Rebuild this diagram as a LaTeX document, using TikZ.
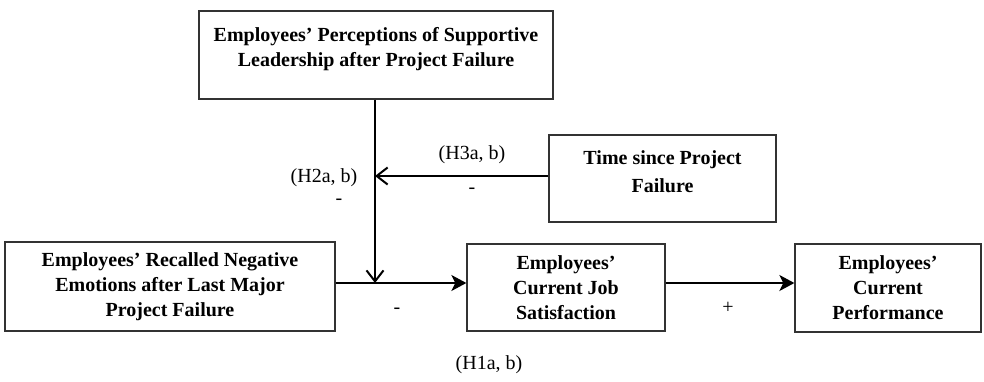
\documentclass[tikz,border=0pt]{standalone}
\usepackage{fontspec}
\setmainfont{Liberation Serif}
\usetikzlibrary{arrows.meta}
\tikzset{
  box/.style={draw=black!80, line width=1.3pt, rectangle, inner sep=0pt},
  boxtext/.style={font=\fontsize{20}{25}\selectfont\bfseries, align=center, inner sep=0pt},
  lbl/.style={font=\fontsize{20}{24}\selectfont, inner sep=0pt},
  barb/.style={line width=2pt, -{Straight Barb[length=11pt,width=17pt,line width=2pt]}},
  solid arrow/.style={line width=2pt, -{Stealth[length=15pt,width=16pt,inset=4pt]}}
}
\begin{document}
\begin{tikzpicture}[x=1pt,y=-1pt]
\useasboundingbox (0,0) rectangle (984,381);
% boxes
\node[box, minimum width=354pt, minimum height=88pt] (lead) at (376,55) {};
\node[boxtext] (leadtxt) at (376,49) {Employees’ Perceptions of Supportive\\Leadership after Project Failure};
\node[box, minimum width=227pt, minimum height=87pt] (time) at (662.5,178.5) {};
\node[boxtext, font=\fontsize{20}{28}\selectfont\bfseries] (timetxt) at (662.5,172) {Time since Project\\Failure};
\node[box, minimum width=330pt, minimum height=89pt, boxtext] (neg) at (170,286.5) {Employees’ Recalled Negative\\Emotions after Last Major\\Project Failure};
\node[box, minimum width=198pt, minimum height=87pt, boxtext] (sat) at (566,287.5) {Employees’\\Current Job\\Satisfaction};
\node[box, minimum width=186pt, minimum height=88pt, boxtext] (perf) at (888,288) {Employees’\\Current\\Performance};
% junction coordinates
\coordinate (j) at (375,283);
\coordinate (k) at (375,176);
% connectors
\draw[barb] (lead.south -| j) -- (j);
\draw[barb] (time.west |- k) -- (k);
\draw[solid arrow] (neg.east |- j) -- (sat.west |- j);
\draw[solid arrow] (sat.east |- j) -- (perf.west |- j);
% labels
\node[lbl] (h3) at (472,155) {(H3a, b)};
\node[lbl] (h3s) at (472,191) {-};
\node[lbl] (h2) at (324,178) {(H2a, b)};
\node[lbl] (h2s) at (339,202) {-};
\node[lbl] (h1s) at (397,311) {-};
\node[lbl] (h1p) at (728,308) {+};
\node[lbl] (h1) at (489,365) {(H1a, b)};
\end{tikzpicture}
\end{document}
